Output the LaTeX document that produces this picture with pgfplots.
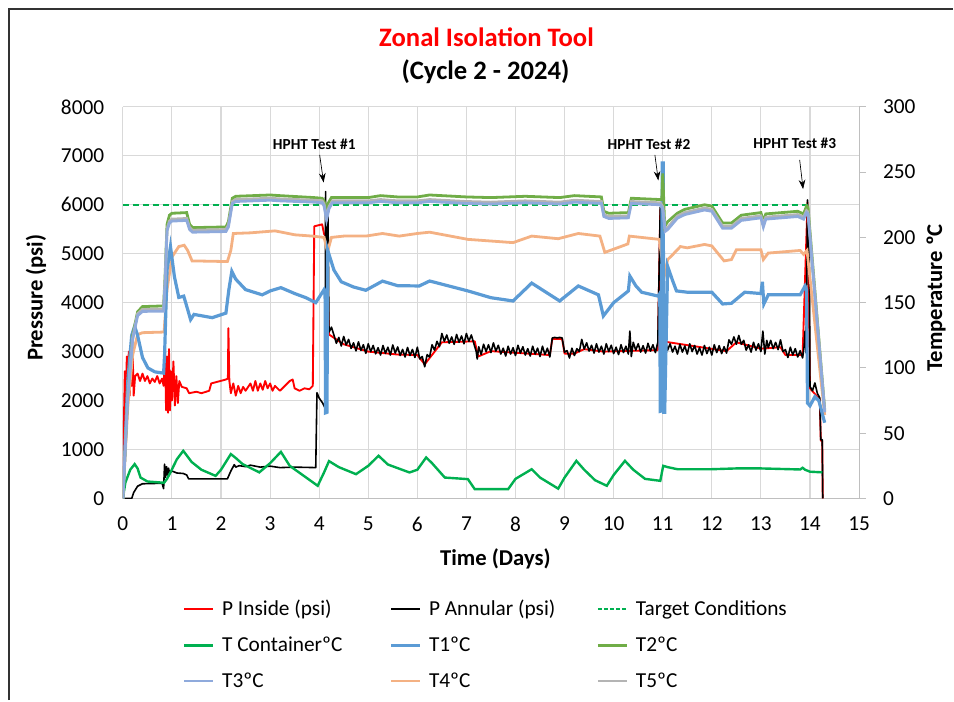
\documentclass[border=0pt]{standalone}
\usepackage{fontspec}
\setmainfont{Carlito}
\usepackage{pgfplots}
\pgfplotsset{compat=1.18}
\usetikzlibrary{arrows.meta}

\definecolor{cpin}{HTML}{FF0000}
\definecolor{tcont}{HTML}{00B050}
\definecolor{tone}{HTML}{5B9BD5}
\definecolor{ttwo}{HTML}{70AD47}
\definecolor{tthree}{HTML}{8FAADC}
\definecolor{tfour}{HTML}{F4B183}
\definecolor{tfive}{HTML}{B4B4B4}
\definecolor{gridc}{HTML}{D9D9D9}
\definecolor{axc}{HTML}{BFBFBF}

\newcommand{\tickfont}{\fontsize{16}{19}\selectfont}
\newcommand{\labfont}{\fontsize{17}{20}\selectfont\bfseries}

\begin{document}
\begin{tikzpicture}
% page: 954x701 px at 0.75pt per px, origin top left
\path (0pt,0pt) rectangle (715.5pt,-525.75pt);

% titles and axis labels
\node[font=\fontsize{20}{24}\selectfont\bfseries, text=cpin] at (365.25pt,-27.75pt) {Zonal Isolation Tool};
\node[font=\fontsize{20}{24}\selectfont\bfseries] at (364.5pt,-54pt) {(Cycle 2 - 2024)};
\node[font=\labfont] at (372pt,-419.25pt) {Time (Days)};
\node[font=\labfont, rotate=90] at (27pt,-223.5pt) {Pressure (psi)};
\node[font=\labfont, rotate=90] at (702.75pt,-223.5pt) {Temperature ºC};

% ---------- pressure axis ----------
\begin{axis}[
  at={(92.25pt,-374.25pt)}, anchor=south west,
  scale only axis, width=552.75pt, height=294pt,
  xmin=0, xmax=15, ymin=0, ymax=8000,
  xtick={0,1,...,15}, ytick={0,1000,...,8000},
  grid=major, major grid style={draw=gridc, line width=0.8pt},
  axis x line*=bottom, axis y line*=left,
  x axis line style={draw=axc, line width=0.8pt, -},
  y axis line style={draw=none},
  major tick length=0pt,
  tick label style={font=\tickfont},
  /pgf/number format/assume math mode=true,
  /pgf/number format/1000 sep={},
  xticklabel style={yshift=-10.5pt},
  yticklabel style={xshift=-10.5pt},
  clip=true,
]
% P Inside (psi)
\addplot[cpin, line width=1.4pt, line join=round] coordinates {
(0,0)(0.02,1500)(0.04,2600)(0.06,1900)(0.08,2900)(0.1,2200)(0.12,3000)(0.14,2100)
(0.16,2700)(0.18,2300)(0.2,3000)(0.22,2100)(0.25,2500)(0.3,2550)(0.35,2400)(0.4,2550)
(0.45,2400)(0.5,2500)(0.55,2350)(0.6,2450)(0.65,2380)(0.7,2500)(0.75,2350)(0.8,2450)
(0.83,2300)(0.86,3000)(0.88,1800)(0.9,2900)(0.92,1750)(0.94,3050)(0.96,1800)(0.98,2600)
(1.0,2000)(1.03,2800)(1.06,1900)(1.09,2500)(1.12,1950)(1.15,2400)(1.2,2280)(1.3,2250)
(1.35,2150)(1.5,2180)(1.6,2150)(1.76,2200)(1.8,2350)(2.1,2430)(2.14,2450)(2.15,3480)
(2.17,2400)(2.2,2150)(2.25,2350)(2.3,2100)(2.35,2300)(2.4,2150)(2.45,2280)(2.5,2200)
(2.6,2350)(2.65,2200)(2.7,2400)(2.75,2200)(2.8,2350)(2.85,2220)(2.9,2400)(2.95,2250)
(3.0,2350)(3.05,2200)(3.1,2300)(3.2,2200)(3.3,2300)(3.4,2400)(3.46,2430)(3.5,2250)
(3.6,2200)(3.7,2250)(3.8,2230)(3.87,2300)(3.9,5560)(4.06,5600)(4.1,5400)(4.14,5360)
(4.2,3350)(4.5,3150)(5.0,3000)(5.6,2940)(6.0,2930)(6.15,2740)(6.5,3190)(7.17,3210)
(7.24,2900)(7.5,3010)(8.7,2930)(8.75,3260)(8.95,3260)(9.0,2960)(9.2,2960)(9.4,3050)
(9.8,3000)(10.9,3030)(10.95,5900)(11.06,3200)(12.3,3010)(12.5,3190)(13.0,3060)
(13.4,3090)(13.5,2930)(13.85,2930)(13.95,6050)(14.0,2250)(14.2,2020)(14.22,1180)
(14.25,1180)(14.26,0)};
% P Annular (psi)
\addplot[black, line width=1.2pt, line join=round] coordinates {
(0,0)(0.18,0)(0.22,120)(0.3,250)(0.4,300)(0.8,310)(0.83,200)(0.85,700)(0.87,430)
(0.89,650)(0.91,480)(0.93,620)(0.95,520)(1.0,560)(1.1,520)(1.23,510)(1.3,480)(1.34,400)
(2.13,400)(2.2,560)(2.27,690)(2.3,640)(2.37,670)(2.5,650)(2.6,680)(2.8,640)(3.0,660)
(3.2,630)(3.5,640)(3.93,630)(3.955,2160)(4.0,2050)(4.07,1950)(4.12,1850)(4.13,6270)
(4.15,4500)(4.18,5800)(4.2,3400)(4.25,3500)
(4.30,3340)(4.35,3170)(4.40,3290)(4.45,3115)(4.50,3310)(4.55,3135)(4.60,3250)(4.65,3065)
(4.70,3180)(4.75,3015)(4.80,3200)(4.85,3025)(4.90,3140)(4.95,2965)(5.00,3160)(5.05,3000)
(5.10,3125)(5.15,2955)(5.20,3080)(5.25,2930)(5.30,3125)(5.35,2965)(5.40,3090)(5.45,2930)
(5.50,3135)(5.55,2970)(5.60,3095)(5.65,2920)(5.70,3045)(5.75,2890)(5.80,3085)(5.85,2920)
(5.90,3045)(5.95,2880)(6.00,3090)(6.05,2850)(6.10,2900)(6.15,2690)(6.20,2940)(6.25,2890)
(6.30,3140)(6.35,3030)(6.40,3210)(6.45,3100)(6.50,3370)(6.55,3210)(6.60,3340)(6.65,3170)
(6.70,3300)(6.75,3150)(6.80,3350)(6.85,3190)(6.90,3320)(6.95,3160)(7.00,3370)(7.05,3210)
(7.10,3340)(7.15,3170)(7.20,3000)(7.22,2850)(7.25,3100)(7.30,2940)(7.35,3150)(7.40,3000)
(7.45,3140)(7.50,2980)(7.55,3180)(7.60,3010)(7.65,3130)(7.70,2950)(7.75,3070)(7.80,2910)
(7.85,3110)(7.90,2950)(7.95,3080)(8.00,2920)(8.05,3130)(8.10,2970)(8.15,3100)(8.20,2930)
(8.25,3060)(8.30,2910)(8.35,3110)(8.40,2950)(8.45,3070)(8.50,2900)(8.55,3110)(8.60,2940)
(8.65,3070)(8.70,2890)(8.75,3280)(8.80,3290)(8.85,3280)(8.90,3290)(8.95,3280)(9.00,2990)
(9.05,3020)(9.10,2870)(9.15,3070)(9.20,2920)(9.25,3060)(9.30,3000)(9.35,3250)(9.40,3050)
(9.45,3180)(9.50,3010)(9.55,3130)(9.60,2970)(9.65,3160)(9.70,2990)(9.75,3110)(9.80,2950)
(9.85,3160)(9.90,3000)(9.95,3130)(10.00,2960)(10.05,3090)(10.10,2940)(10.15,3140)
(10.20,2980)(10.25,3110)(10.30,2950)(10.33,3420)(10.36,2900)(10.40,3190)(10.45,3030)
(10.50,3160)(10.55,2990)(10.60,3120)(10.65,2970)(10.70,3170)(10.75,3010)(10.80,3140)
(10.85,2980)(10.90,3190)(10.95,5950)(10.97,4300)(10.99,5300)(11.01,3300)(11.03,3900)
(11.06,3200)(11.10,3030)(11.15,3160)(11.20,2990)(11.25,3110)(11.30,2950)(11.35,3150)
(11.40,2990)(11.45,3115)(11.50,2950)(11.55,3160)(11.60,3000)(11.65,3125)(11.70,2950)
(11.75,3080)(11.80,2930)(11.85,3125)(11.90,2960)(11.95,3090)(12.00,2930)(12.05,3140)
(12.10,2980)(12.15,3120)(12.20,2960)(12.25,3100)(12.30,2970)(12.35,3240)(12.40,3150)
(12.45,3300)(12.50,3150)(12.55,3330)(12.60,3150)(12.65,3230)(12.70,3030)(12.75,3140)
(12.80,2990)(12.85,3190)(12.90,3030)(12.95,3160)(13.00,3000)(13.04,3420)(13.08,2950)
(13.12,3230)(13.15,3080)(13.20,3230)(13.25,3060)(13.30,3190)(13.35,3040)(13.40,3240)
(13.45,3000)(13.50,3040)(13.55,2880)(13.60,3090)(13.65,2930)(13.70,3060)(13.75,2890)
(13.80,3020)(13.85,2870)(13.88,3100)(13.90,3420)(13.92,2980)(13.95,6100)(13.99,4500)
(14.0,2290)(14.05,2200)(14.1,2360)(14.15,2150)(14.2,2050)(14.22,1200)(14.25,1200)(14.26,0)};
% Target Conditions
\addplot[tcont, line width=1.5pt, dash pattern=on 4.5pt off 3pt] coordinates {(0,6000)(14,6000)};

% HPHT test annotations
\node[font=\fontsize{11.5}{14}\selectfont\bfseries] at (axis cs:3.90,7240) {HPHT Test \#1};
\node[font=\fontsize{11.5}{14}\selectfont\bfseries] at (axis cs:10.72,7245) {HPHT Test \#2};
\node[font=\fontsize{11.5}{14}\selectfont\bfseries] at (axis cs:13.69,7259) {HPHT Test \#3};
\draw[-{Stealth[length=7pt,width=5pt]}, line width=0.5pt] (axis cs:4.01,7020) -- (axis cs:4.09,6455);
\draw[-{Stealth[length=7pt,width=5pt]}, line width=0.5pt] (axis cs:10.84,7020) -- (axis cs:10.91,6496);
\draw[-{Stealth[length=7pt,width=5pt]}, line width=0.5pt] (axis cs:13.79,6918) -- (axis cs:13.86,6320);
\end{axis}

% ---------- temperature axis ----------
\begin{axis}[
  at={(92.25pt,-374.25pt)}, anchor=south west,
  scale only axis, width=552.75pt, height=294pt,
  xmin=0, xmax=15, ymin=0, ymax=300,
  ytick={0,50,...,300},
  axis x line=none, axis y line*=right,
  y axis line style={draw=axc, line width=0.8pt, -},
  ytick style={draw=axc, line width=0.8pt},
  tick align=outside, major tick length=5pt,
  tick label style={font=\tickfont},
  /pgf/number format/assume math mode=true,
  yticklabel style={xshift=9.5pt},
  legend columns=3,
  legend cell align=left,
  legend style={draw=none, fill=none, inner sep=0pt,
    at={(0.0814,-0.2526)}, anchor=north west,
    font=\tickfont, row sep=10.5pt,
    /tikz/every odd column/.style={column sep=4pt},
    /tikz/every even column/.style={column sep=0pt}},
  legend image code/.code={\draw[#1] (0pt,0pt) -- (21.75pt,0pt);},
]
\addlegendimage{cpin, line width=1.6pt}
\addlegendentry{\makebox[124pt][l]{P Inside (psi)}}
\addlegendimage{black, line width=1.6pt}
\addlegendentry{\makebox[124pt][l]{P Annular (psi)}}
\addlegendimage{tcont, line width=1.5pt, dash pattern=on 3pt off 1.5pt}
\addlegendentry{\makebox[124pt][l]{Target Conditions}}
\addlegendimage{tcont, line width=1.6pt}
\addlegendentry{\makebox[124pt][l]{T ContainerºC}}
\addlegendimage{tone, line width=1.6pt}
\addlegendentry{\makebox[124pt][l]{T1ºC}}
\addlegendimage{ttwo, line width=1.6pt}
\addlegendentry{\makebox[124pt][l]{T2ºC}}
\addlegendimage{tthree, line width=1.6pt}
\addlegendentry{\makebox[124pt][l]{T3ºC}}
\addlegendimage{tfour, line width=1.6pt}
\addlegendentry{\makebox[124pt][l]{T4ºC}}
\addlegendimage{tfive, line width=1.6pt}
\addlegendentry{\makebox[124pt][l]{T5ºC}}

% T Container
\addplot[tcont, line width=1.8pt, forget plot] coordinates {
(0,0)(0.05,12)(0.15,22)(0.24,26.3)(0.3,23)(0.36,16)(0.5,13)(0.84,12)(0.9,15)(0.97,20)
(1.1,30)(1.23,36.5)(1.4,28)(1.6,22)(1.89,17.3)(2.0,22)(2.2,34)(2.3,31)(2.44,26.3)
(2.78,20)(3.0,27)(3.22,35.7)(3.4,25)(3.97,9.7)(4.1,20)(4.2,28.6)(4.4,24)(4.75,18.6)
(5.0,25)(5.21,32.7)(5.4,26)(5.84,19.9)(6.0,22)(6.18,31.4)(6.3,27)(6.56,16)(7.03,14.8)
(7.17,7.1)(7.85,7.1)(8.0,15)(8.33,22.4)(8.5,16)(8.87,7.5)(9.0,16)(9.24,28.8)(9.4,22)
(9.62,14)(9.86,9.7)(10.0,18)(10.23,28.8)(10.4,22)(10.64,15)(10.95,13.5)(11.01,25)
(11.1,24)(11.3,22.4)(12.0,22.4)(12.5,23)(13.0,23)(13.5,22.5)(13.8,22.2)(13.85,23.5)
(13.9,22)(14.0,20.5)(14.25,20)};
% T4
\addplot[tfour, line width=2.1pt, forget plot] coordinates {
(0,0)(0.1,70)(0.2,110)(0.3,125.5)(0.4,127)(0.84,127.5)(0.9,160)(1.0,185)(1.14,193)
(1.25,194)(1.32,190)(1.41,182)(2.13,181.5)(2.2,190)(2.25,203)(2.6,203.5)(3.1,205)
(3.5,202)(3.86,201)(4.1,200)(4.17,189)(4.25,200)(4.5,201)(4.95,201)(5.29,203)
(5.63,201)(6.0,203)(6.25,204)(7.03,198.5)(7.95,196)(8.33,201)(8.87,199)(9.28,203)
(9.72,201)(9.82,188.5)(10.29,195)(10.32,201)(10.93,198.5)(10.98,185)(11.03,170)
(11.1,183)(11.2,186.7)(11.36,193)(11.5,192)(11.85,194.6)(12.0,193.5)(12.25,182)
(12.4,183)(12.5,190.5)(13.0,190.5)(13.05,183)(13.15,188)(13.8,190)(13.87,187)
(13.94,190)(14.3,64)};
% T1
\addplot[tone, line width=2.4pt, forget plot] coordinates {
(0,0)(0.1,90)(0.18,125)(0.24,132)(0.3,125)(0.4,108)(0.51,100)(0.65,97)(0.83,96)
(0.85,110)(0.9,175)(0.97,193)(1.05,170)(1.14,154)(1.24,155)(1.28,150)(1.38,137)
(1.45,141)(1.82,138.5)(2.1,142)(2.16,160)(2.22,174)(2.3,168)(2.5,160)(2.84,156)
(3.0,159)(3.22,161.5)(3.5,157)(3.73,153.8)(3.93,150)(4.1,160)(4.12,158)(4.13,65.6)
(4.16,66)(4.17,190.6)(4.3,175)(4.45,166)(4.7,162)(4.95,159.5)(5.29,166.5)(5.6,163)
(6.04,162.8)(6.25,166.6)(7.03,159)(7.5,153.8)(7.95,151.3)(8.33,165)(8.9,151.3)
(9.28,162.8)(9.69,156)(9.79,139.8)(10.0,150)(10.3,159)(10.33,170.4)(10.45,163)
(10.57,158)(10.91,155)(10.94,157)(10.95,66.8)(10.97,67)(10.99,257)(11.01,257)
(11.02,66)(11.04,66)(11.1,177.8)(11.2,167)(11.28,159)(11.5,158)(12.0,158)(12.22,149)
(12.4,149.5)(12.67,158)(13.0,157)(13.03,166)(13.06,149)(13.15,156)(13.8,156)
(13.9,162.8)(13.93,160)(13.95,73)(14.0,71)(14.1,78)(14.18,75)(14.3,58)};
% T2
\addplot[ttwo, line width=2.1pt, forget plot] coordinates {
(0,0)(0.1,80)(0.2,125)(0.3,143)(0.4,147)(0.83,147.5)(0.86,170)(0.9,210)(0.95,217)
(1.0,218.5)(1.3,219)(1.36,210)(1.42,207.5)(2.1,208)(2.15,212)(2.23,230)(2.3,231.5)
(3.0,232.5)(3.2,232)(3.9,230.5)(4.06,230)(4.1,228)(4.14,221)(4.18,226)(4.25,230.5)
(5.0,230.5)(5.25,232)(5.6,231)(6.0,231)(6.25,232.5)(7.0,231)(7.5,230.5)(8.2,231.5)
(8.9,230.5)(9.2,232)(9.75,231)(9.8,220)(9.9,218.5)(10.3,219)(10.36,230)(10.95,229)
(10.98,229)(11.0,249)(11.04,208.4)(11.1,212)(11.3,218.6)(11.45,221.5)(11.85,225)
(12.0,224)(12.22,211)(12.4,211)(12.6,217)(13.0,219)(13.05,212)(13.1,218)(13.75,220)
(13.87,218)(13.93,224)(13.96,223)(14.3,68)};
% T5
\addplot[tfive, line width=2.1pt, forget plot] coordinates {
(0,0)(0.1,79)(0.2,123)(0.3,141.5)(0.4,144.8)(0.83,145)(0.86,166.5)(0.9,206.5)
(0.95,212.5)(1.0,214)(1.3,214.5)(1.36,207.5)(1.42,205.5)(2.1,206)(2.15,209.5)
(2.23,227.5)(2.3,229)(3.0,230)(3.2,229.5)(3.9,228.5)(4.06,228)(4.1,225.5)(4.15,215)
(4.2,223.5)(4.27,228)(5.0,228)(5.25,229)(5.6,228)(6.0,228)(6.25,229)(7.0,227.5)
(7.5,227)(8.2,228)(8.9,227)(9.2,228.5)(9.75,227.5)(9.8,217.5)(9.9,216)(10.3,216.5)
(10.36,227.5)(10.95,226.5)(11.0,223.5)(11.05,206)(11.1,207.5)(11.3,216.3)(11.45,219)
(11.85,222.5)(12.0,221.5)(12.22,208.5)(12.4,208.5)(12.6,214.5)(13.0,216.5)(13.05,209.5)
(13.1,215.5)(13.75,217.5)(13.87,215.5)(13.93,220.5)(13.96,219.5)(14.3,67)};
% T3
\addplot[tthree, line width=2.1pt, forget plot] coordinates {
(0,0)(0.1,78)(0.2,122)(0.3,140)(0.4,143.3)(0.83,143.5)(0.86,165)(0.9,205)(0.95,211)
(1.0,212.5)(1.3,213)(1.36,206)(1.42,204)(2.1,204.5)(2.15,208)(2.23,226)(2.3,227.5)
(3.0,228.5)(3.2,228)(3.9,227)(4.06,226.5)(4.1,224)(4.15,213.5)(4.2,222)(4.27,226.5)
(5.0,226.5)(5.25,227.5)(5.6,226.5)(6.0,226.5)(6.25,227.5)(7.0,226)(7.5,225.5)
(8.2,226.5)(8.9,225.5)(9.2,227)(9.75,226)(9.8,216)(9.9,214.5)(10.3,215)(10.36,226)
(10.95,225)(11.0,222)(11.05,204.6)(11.1,206)(11.3,214.8)(11.45,217.5)(11.85,221)
(12.0,220)(12.22,207)(12.4,207)(12.6,213)(13.0,215)(13.05,208)(13.1,214)(13.75,216)
(13.87,214)(13.93,219)(13.96,218)(14.3,66)};
\end{axis}

% chart frame (top and left edges, the others fall outside the crop)
\draw[line width=1.6pt, black!80] (6.5pt,-525.75pt) -- (6.5pt,-6.5pt) -- (715.5pt,-6.5pt);
\end{tikzpicture}
\end{document}
